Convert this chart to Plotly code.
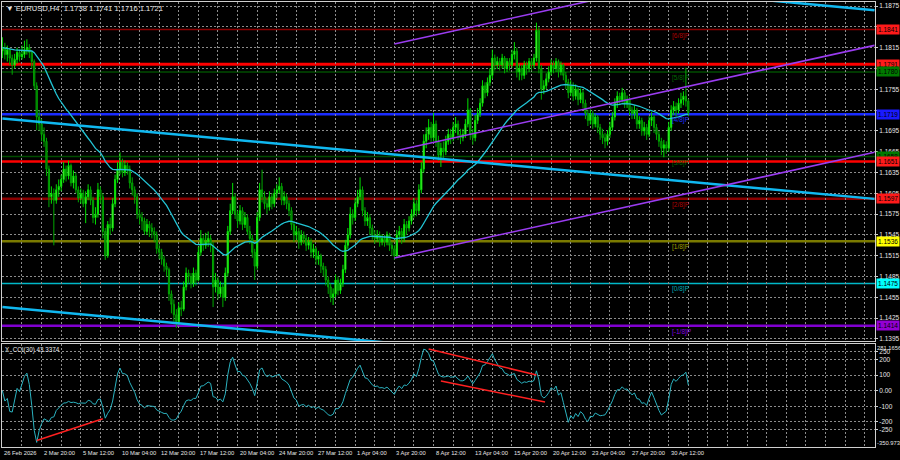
import plotly.graph_objects as go
import numpy as np
import pandas as pd

# ---------------- data (EURUSD H4) ----------------
first_open = 1.1810
close = [
    1.1815, 1.1805, 1.1812, 1.1800, 1.1790, 1.1798, 1.1808, 1.1802, 1.1805, 1.1812,
    1.1815, 1.1808, 1.1795, 1.1760, 1.1715, 1.1705, 1.1690, 1.1680, 1.1640, 1.1600,
    1.1605, 1.1595, 1.1610, 1.1615, 1.1625, 1.1640, 1.1630, 1.1645, 1.1620, 1.1630,
    1.1610, 1.1598, 1.1605, 1.1590, 1.1600, 1.1610, 1.1595, 1.1570, 1.1575, 1.1610,
    1.1600, 1.1550, 1.1515, 1.1560, 1.1555, 1.1590, 1.1625, 1.1640, 1.1650, 1.1635,
    1.1645, 1.1640, 1.1620, 1.1610, 1.1600, 1.1575, 1.1570, 1.1565, 1.1550, 1.1560,
    1.1555, 1.1550, 1.1545, 1.1525, 1.1520, 1.1510, 1.1500, 1.1495, 1.1460, 1.1445,
    1.1430, 1.1420, 1.1440, 1.1438, 1.1470, 1.1490, 1.1485, 1.1475, 1.1490, 1.1480,
    1.1520, 1.1540, 1.1530, 1.1535, 1.1540, 1.1530, 1.1470, 1.1480, 1.1460, 1.1470,
    1.1455, 1.1490, 1.1550, 1.1580, 1.1600, 1.1575, 1.1565, 1.1580, 1.1560, 1.1570,
    1.1550, 1.1540, 1.1520, 1.1500, 1.1570, 1.1610, 1.1600, 1.1590, 1.1585, 1.1600,
    1.1590, 1.1605, 1.1610, 1.1615, 1.1595, 1.1600, 1.1590, 1.1580, 1.1560, 1.1545,
    1.1550, 1.1535, 1.1545, 1.1540, 1.1530, 1.1535, 1.1520, 1.1525, 1.1510, 1.1515,
    1.1500, 1.1495, 1.1480, 1.1470, 1.1455, 1.1460, 1.1480, 1.1465, 1.1475, 1.1495,
    1.1530, 1.1545, 1.1575, 1.1570, 1.1590, 1.1600, 1.1610, 1.1580, 1.1565, 1.1570,
    1.1555, 1.1545, 1.1540, 1.1545, 1.1535, 1.1540, 1.1535, 1.1545, 1.1530, 1.1525,
    1.1515, 1.1545, 1.1550, 1.1540, 1.1560, 1.1555, 1.1565, 1.1575, 1.1590, 1.1580,
    1.1610, 1.1640, 1.1680, 1.1690, 1.1700, 1.1685, 1.1705, 1.1680, 1.1660, 1.1670,
    1.1665, 1.1680, 1.1690, 1.1685, 1.1700, 1.1705, 1.1690, 1.1685, 1.1690, 1.1705,
    1.1725, 1.1690, 1.1685, 1.1710, 1.1720, 1.1735, 1.1760, 1.1750, 1.1765, 1.1775,
    1.1800, 1.1790, 1.1795, 1.1790, 1.1800, 1.1785, 1.1795, 1.1790, 1.1805, 1.1810,
    1.1780, 1.1785, 1.1775, 1.1790, 1.1785, 1.1795, 1.1790, 1.1800, 1.1840, 1.1785,
    1.1755, 1.1760, 1.1770, 1.1780, 1.1790, 1.1785, 1.1795, 1.1780, 1.1790, 1.1775,
    1.1765, 1.1750, 1.1760, 1.1745, 1.1755, 1.1740, 1.1750, 1.1735, 1.1720, 1.1710,
    1.1720, 1.1705, 1.1715, 1.1700, 1.1690, 1.1685, 1.1680, 1.1690, 1.1700, 1.1715,
    1.1735, 1.1745, 1.1740, 1.1750, 1.1735, 1.1740, 1.1725, 1.1720, 1.1725, 1.1705,
    1.1710, 1.1695, 1.1700, 1.1690, 1.1710, 1.1715, 1.1700, 1.1690, 1.1680, 1.1670,
    1.1675, 1.1670, 1.1700, 1.1725, 1.1730, 1.1725, 1.1735, 1.1740, 1.1745, 1.1738,
    1.1721,
]
high = [
    1.1830, 1.1822, 1.1818, 1.1815, 1.1805, 1.1806, 1.1815, 1.1812, 1.1818, 1.1825,
    1.1827, 1.1820, 1.1810, 1.1798, 1.1765, 1.1725, 1.1712, 1.1700, 1.1685, 1.1645,
    1.1615, 1.1612, 1.1618, 1.1625, 1.1632, 1.1650, 1.1645, 1.1652, 1.1648, 1.1638,
    1.1635, 1.1615, 1.1612, 1.1610, 1.1608, 1.1618, 1.1615, 1.1600, 1.1585, 1.1620,
    1.1615, 1.1605, 1.1555, 1.1565, 1.1570, 1.1598, 1.1632, 1.1650, 1.1664, 1.1655,
    1.1652, 1.1650, 1.1645, 1.1628, 1.1615, 1.1605, 1.1582, 1.1578, 1.1570, 1.1568,
    1.1565, 1.1562, 1.1556, 1.1550, 1.1532, 1.1525, 1.1515, 1.1505, 1.1498, 1.1465,
    1.1452, 1.1438, 1.1448, 1.1450, 1.1478, 1.1498, 1.1495, 1.1490, 1.1498, 1.1495,
    1.1528, 1.1552, 1.1545, 1.1548, 1.1550, 1.1545, 1.1535, 1.1490, 1.1485, 1.1478,
    1.1475, 1.1498, 1.1558, 1.1590, 1.1620, 1.1605, 1.1580, 1.1588, 1.1585, 1.1578,
    1.1575, 1.1558, 1.1545, 1.1525, 1.1578, 1.1620, 1.1639, 1.1608, 1.1598, 1.1608,
    1.1605, 1.1612, 1.1618, 1.1628, 1.1620, 1.1608, 1.1605, 1.1595, 1.1585, 1.1565,
    1.1558, 1.1555, 1.1552, 1.1550, 1.1545, 1.1542, 1.1540, 1.1532, 1.1528, 1.1522,
    1.1518, 1.1505, 1.1500, 1.1485, 1.1475, 1.1468, 1.1488, 1.1485, 1.1482, 1.1502,
    1.1538, 1.1555, 1.1585, 1.1582, 1.1598, 1.1610, 1.1628, 1.1615, 1.1585, 1.1578,
    1.1575, 1.1560, 1.1552, 1.1552, 1.1550, 1.1546, 1.1545, 1.1550, 1.1548, 1.1535,
    1.1530, 1.1552, 1.1558, 1.1555, 1.1568, 1.1565, 1.1572, 1.1582, 1.1598, 1.1595,
    1.1618, 1.1650, 1.1690, 1.1700, 1.1712, 1.1708, 1.1721, 1.1710, 1.1688, 1.1678,
    1.1680, 1.1688, 1.1698, 1.1698, 1.1708, 1.1715, 1.1710, 1.1698, 1.1698, 1.1712,
    1.1742, 1.1728, 1.1698, 1.1718, 1.1728, 1.1742, 1.1768, 1.1765, 1.1772, 1.1785,
    1.1812, 1.1805, 1.1802, 1.1800, 1.1806, 1.1803, 1.1800, 1.1800, 1.1812, 1.1823,
    1.1815, 1.1792, 1.1790, 1.1796, 1.1795, 1.1800, 1.1800, 1.1806, 1.1851, 1.1845,
    1.1790, 1.1768, 1.1778, 1.1788, 1.1798, 1.1796, 1.1800, 1.1798, 1.1795, 1.1792,
    1.1780, 1.1770, 1.1768, 1.1765, 1.1762, 1.1758, 1.1756, 1.1755, 1.1740, 1.1725,
    1.1726, 1.1724, 1.1720, 1.1718, 1.1705, 1.1698, 1.1692, 1.1696, 1.1708, 1.1722,
    1.1742, 1.1752, 1.1750, 1.1757, 1.1754, 1.1746, 1.1744, 1.1730, 1.1732, 1.1728,
    1.1716, 1.1714, 1.1708, 1.1705, 1.1716, 1.1722, 1.1718, 1.1705, 1.1695, 1.1685,
    1.1682, 1.1680, 1.1708, 1.1732, 1.1738, 1.1736, 1.1742, 1.1750, 1.1752, 1.1786,
    1.1741,
]
low = [
    1.1800, 1.1798, 1.1795, 1.1790, 1.1776, 1.1785, 1.1792, 1.1795, 1.1798, 1.1800,
    1.1805, 1.1800, 1.1785, 1.1755, 1.1696, 1.1695, 1.1680, 1.1672, 1.1630, 1.1585,
    1.1590, 1.1530, 1.1590, 1.1600, 1.1608, 1.1620, 1.1622, 1.1625, 1.1615, 1.1612,
    1.1605, 1.1592, 1.1590, 1.1585, 1.1562, 1.1595, 1.1588, 1.1562, 1.1560, 1.1570,
    1.1590, 1.1540, 1.1509, 1.1512, 1.1545, 1.1550, 1.1585, 1.1620, 1.1632, 1.1628,
    1.1630, 1.1632, 1.1612, 1.1602, 1.1590, 1.1568, 1.1560, 1.1552, 1.1545, 1.1545,
    1.1542, 1.1540, 1.1535, 1.1518, 1.1510, 1.1502, 1.1492, 1.1485, 1.1450, 1.1432,
    1.1420, 1.1411, 1.1415, 1.1428, 1.1435, 1.1465, 1.1475, 1.1468, 1.1470, 1.1472,
    1.1478, 1.1515, 1.1522, 1.1525, 1.1528, 1.1520, 1.1441, 1.1462, 1.1452, 1.1455,
    1.1441, 1.1450, 1.1485, 1.1545, 1.1575, 1.1568, 1.1555, 1.1560, 1.1552, 1.1555,
    1.1545, 1.1532, 1.1512, 1.1480, 1.1495, 1.1565, 1.1592, 1.1582, 1.1575, 1.1580,
    1.1582, 1.1585, 1.1598, 1.1605, 1.1588, 1.1588, 1.1582, 1.1572, 1.1552, 1.1535,
    1.1538, 1.1525, 1.1530, 1.1532, 1.1522, 1.1524, 1.1512, 1.1512, 1.1502, 1.1502,
    1.1490, 1.1485, 1.1472, 1.1460, 1.1448, 1.1444, 1.1455, 1.1458, 1.1460, 1.1470,
    1.1490, 1.1525, 1.1540, 1.1560, 1.1565, 1.1585, 1.1595, 1.1572, 1.1558, 1.1558,
    1.1545, 1.1538, 1.1532, 1.1535, 1.1528, 1.1530, 1.1528, 1.1530, 1.1522, 1.1515,
    1.1509, 1.1512, 1.1538, 1.1532, 1.1535, 1.1545, 1.1550, 1.1560, 1.1570, 1.1572,
    1.1575, 1.1605, 1.1635, 1.1670, 1.1682, 1.1678, 1.1680, 1.1672, 1.1652, 1.1643,
    1.1655, 1.1660, 1.1675, 1.1676, 1.1680, 1.1692, 1.1682, 1.1676, 1.1680, 1.1685,
    1.1700, 1.1682, 1.1675, 1.1680, 1.1705, 1.1715, 1.1730, 1.1742, 1.1745, 1.1760,
    1.1770, 1.1782, 1.1784, 1.1782, 1.1785, 1.1778, 1.1780, 1.1782, 1.1786, 1.1798,
    1.1772, 1.1768, 1.1768, 1.1770, 1.1776, 1.1780, 1.1782, 1.1785, 1.1795, 1.1778,
    1.1740, 1.1748, 1.1755, 1.1765, 1.1775, 1.1778, 1.1780, 1.1772, 1.1775, 1.1768,
    1.1755, 1.1742, 1.1745, 1.1738, 1.1740, 1.1732, 1.1735, 1.1728, 1.1712, 1.1702,
    1.1704, 1.1698, 1.1700, 1.1692, 1.1682, 1.1676, 1.1670, 1.1674, 1.1685, 1.1695,
    1.1710, 1.1728, 1.1732, 1.1736, 1.1728, 1.1728, 1.1718, 1.1712, 1.1712, 1.1698,
    1.1698, 1.1688, 1.1688, 1.1682, 1.1686, 1.1702, 1.1692, 1.1682, 1.1672, 1.1660,
    1.1657, 1.1662, 1.1665, 1.1695, 1.1718, 1.1716, 1.1720, 1.1728, 1.1732, 1.1730,
    1.1716,
]
open_ = [first_open] + close[:-1]

time_labels = ["26 Feb 2026", "2 Mar 20:00", "5 Mar 12:00", "10 Mar 04:00", "12 Mar 20:00",
               "17 Mar 12:00", "20 Mar 04:00", "24 Mar 20:00", "27 Mar 12:00", "1 Apr 04:00",
               "3 Apr 20:00", "8 Apr 12:00", "13 Apr 04:00", "15 Apr 20:00", "20 Apr 12:00",
               "23 Apr 04:00", "27 Apr 20:00", "30 Apr 12:00"]
bars_per_label = 16
bars_per_grid = 8

# horizontal levels (price) and their Murray labels
level_prices = [1.1841, 1.1791, 1.1780, 1.1719, 1.1658, 1.1651, 1.1597, 1.1536, 1.1475, 1.1414]
murray_names = ["[6/8]P", None, "[5/8]P", "[4/8]P", "[3/8]P", None, "[2/8]P", "[1/8]P", "[0/8]P", "[-1/8]P"]

# trend lines: (bar index, price) endpoints
blue_trend_1 = ([0, 356], [1.1713, 1.1597])
blue_trend_2 = ([300, 356], [1.18873, 1.18690])
blue_trend_3 = ([0, 170], [1.1441, 1.13856])
purple_ch_top = ([160, 356], [1.18203, 1.19726])
purple_ch_mid = ([160, 356], [1.16660, 1.18183])
purple_ch_low = ([160, 356], [1.15118, 1.16641])

# CCI divergence lines: (bar index, cci value)
cci_div_1 = ([14, 41], [-320, -180])
cci_div_2 = ([174, 218], [268, 101])
cci_div_3 = ([179, 221.5], [62, -73])

header = "EURUSD,H4  1.1738 1.1741 1.1716 1.1721"
cci_title = "X_CCI(30) 43.3374"
cci_top_label, cci_bottom_label = "281.1656", "-350.973"
price_ticks = [round(1.1395 + 0.003 * k, 4) for k in range(17)]
hidden_price_labels = [1.1845, 1.1785, 1.1725]   # covered by the level boxes in the reference
cci_ticks = [250, 200, 100, 0, -100, -200, -250]
cci_tick_text = ["250", "200", "100", "0.00", "-100", "-200", "-250"]

# ---------------- styles ----------------
W, H = 900, 460
X_L, X_R = 2, 875
MAIN_T, MAIN_B = 2, 341
CCI_T, CCI_B = 344, 447
FONT = "Liberation Sans"
FS = 6.5
FG = "#e6e6e6"
GRID = "#8c8c8c"

level_styles = [
    dict(line="#8b0000", width=1.5, box="#ff1a1a"),
    dict(line="#ff0000", width=3, box="#ff1a1a"),
    dict(line="#004d00", width=1.5, box="#007a00"),
    dict(line="#1a2cff", width=2.5, box="#1a1aff"),
    dict(line="#004d00", width=1.5, box="#007a00"),
    dict(line="#ff0000", width=2.5, box="#ff1a1a"),
    dict(line="#8b0000", width=2.5, box="#ff1a1a"),
    dict(line="#7a7a00", width=2.5, box="#ffff00"),
    dict(line="#00b8c8", width=1.5, box="#00ffff"),
    dict(line="#8000d0", width=2.5, box="#9400d3"),
]
murray_colors = ["#b00000", None, "#006a00", "#2030ff", "#006a00", None, "#b00000", "#a0a000", "#00a8b0", "#8a00e0"]

n = len(close)
idx = np.arange(n)

df = pd.DataFrame({"o": open_, "h": high, "l": low, "c": close})
ma = df["c"].ewm(span=40, adjust=False).mean()
tp = (df["h"] + df["l"] + df["c"]) / 3.0
sma_tp = tp.rolling(30, min_periods=1).mean()
md = tp.rolling(30, min_periods=1).apply(lambda w: np.mean(np.abs(w - w.mean())), raw=True)
cci = ((tp - sma_tp) / (0.015 * md.replace(0, np.nan))).fillna(0)


def py(p):
    return 1 - p / H


fig = go.Figure()

fig.add_trace(go.Candlestick(
    x=idx, open=open_, high=high, low=low, close=close,
    increasing=dict(line=dict(color="#00e000", width=1), fillcolor="#9cff6a"),
    decreasing=dict(line=dict(color="#00a800", width=1), fillcolor="#005a00"),
    whiskerwidth=0, xaxis="x", yaxis="y", showlegend=False, hoverinfo="skip"))

fig.add_trace(go.Scatter(x=idx, y=ma, mode="lines", line=dict(color="#22c4d4", width=1.3),
                         xaxis="x", yaxis="y", showlegend=False, hoverinfo="skip"))

for (xs, ys) in [blue_trend_1, blue_trend_2, blue_trend_3]:
    fig.add_trace(go.Scatter(x=xs, y=ys, mode="lines", line=dict(color="#10b8f0", width=2.5),
                             xaxis="x", yaxis="y", showlegend=False, hoverinfo="skip"))
for (xs, ys) in [purple_ch_top, purple_ch_mid, purple_ch_low]:
    fig.add_trace(go.Scatter(x=xs, y=ys, mode="lines", line=dict(color="#9a3cf0", width=1.6),
                             xaxis="x", yaxis="y", showlegend=False, hoverinfo="skip"))

# CCI
fig.add_trace(go.Scatter(x=idx, y=cci, mode="lines", line=dict(color="#2bb3c0", width=1),
                         xaxis="x2", yaxis="y2", showlegend=False, hoverinfo="skip"))
for (xs, ys) in [cci_div_1, cci_div_2, cci_div_3]:
    fig.add_trace(go.Scatter(x=xs, y=ys, mode="lines", line=dict(color="#ff2020", width=1.5),
                             xaxis="x2", yaxis="y2", showlegend=False, hoverinfo="skip"))

shapes = []
annotations = []
for p, st, mname, mcol in zip(level_prices, level_styles, murray_names, murray_colors):
    shapes.append(dict(type="line", xref="x domain", yref="y", x0=0, x1=1, y0=p, y1=p,
                       line=dict(color=st["line"], width=st["width"]), layer="below"))
    annotations.append(dict(xref="paper", yref="y", x=876 / W, y=p, xanchor="left", yanchor="middle",
                            text=f"{p:.4f}", showarrow=False, bgcolor=st["box"],
                            font=dict(family=FONT, size=FS, color="#000000"), borderpad=1))
    if mname:
        annotations.append(dict(xref="x", yref="y", x=272.5, y=p, xanchor="left", yanchor="top",
                                text=mname, showarrow=False,
                                font=dict(family=FONT, size=FS, color=mcol)))

# time labels
for k, lab in enumerate(time_labels):
    annotations.append(dict(xref="x", yref="paper", x=k * bars_per_label, y=py(452.5),
                            xanchor="left", yanchor="middle", text=lab, showarrow=False,
                            font=dict(family=FONT, size=5.8, color=FG)))

annotations.append(dict(xref="paper", yref="paper", x=4 / W, y=py(8), xanchor="left", yanchor="middle",
                        text="\u25bc " + header, showarrow=False, font=dict(family=FONT, size=7.6, color=FG)))
annotations.append(dict(xref="paper", yref="paper", x=3 / W, y=py(349.5), xanchor="left", yanchor="middle",
                        text=cci_title, showarrow=False, font=dict(family=FONT, size=6.3, color=FG)))
annotations.append(dict(xref="paper", yref="paper", x=875 / W, y=py(347.5), xanchor="left", yanchor="middle",
                        text=cci_top_label, showarrow=False, font=dict(family=FONT, size=5.8, color=FG)))
annotations.append(dict(xref="paper", yref="paper", x=875 / W, y=py(443), xanchor="left", yanchor="middle",
                        text=cci_bottom_label, showarrow=False, font=dict(family=FONT, size=5.8, color=FG)))

x_lo, x_hi = -0.16, 356.2
grid_vals = list(range(0, 357, bars_per_grid))
common_x = dict(range=[x_lo, x_hi], showgrid=True, gridcolor=GRID, griddash="2px,2px", gridwidth=1,
                tickvals=grid_vals, showticklabels=False, ticks="", zeroline=False,
                showline=True, linecolor="#cfcfcf", linewidth=1, mirror=True, automargin=False,
                domain=[X_L / W, X_R / W], fixedrange=True)

common_y = dict(side="right", ticks="outside", ticklen=2, tickcolor="#cfcfcf",
                showgrid=True, gridcolor=GRID, griddash="2px,2px", zeroline=False, automargin=False,
                showline=True, linecolor="#cfcfcf", mirror=True, fixedrange=True,
                tickfont=dict(family=FONT, size=FS, color=FG))

price_tick_text = ["" if v in hidden_price_labels else f"{v:.4f}" for v in price_ticks]

fig.update_layout(
    width=W, height=H, autosize=False,
    margin=dict(l=0, r=0, t=0, b=0, pad=0),
    paper_bgcolor="#000000", plot_bgcolor="#000000",
    font=dict(family=FONT, size=FS, color=FG),
    xaxis=dict(anchor="y", rangeslider=dict(visible=False), **common_x),
    xaxis2=dict(anchor="y2", matches="x", **common_x),
    yaxis=dict(domain=[py(MAIN_B), py(MAIN_T)], range=[1.13921, 1.18808], anchor="x",
               tickvals=price_ticks, ticktext=price_tick_text, **common_y),
    yaxis2=dict(domain=[py(CCI_B), py(CCI_T)], range=[-362, 300], anchor="x2",
                tickvals=cci_ticks, ticktext=cci_tick_text, **common_y),
    shapes=shapes, annotations=annotations,
)

fig.write_html("out.html", config={"displayModeBar": False, "staticPlot": True},
               post_script="document.body.style.margin='0px';document.body.style.overflow='hidden';"
                           "document.body.style.background='#000';")
